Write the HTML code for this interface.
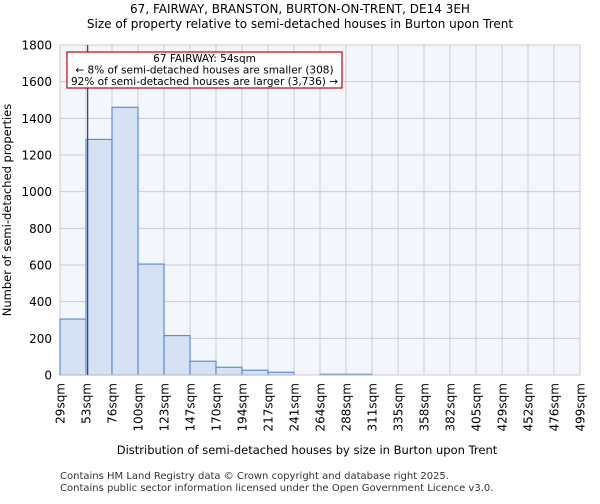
<!DOCTYPE html>
<html><head><meta charset="utf-8"><style>
body{margin:0;background:#fff;font-family:"DejaVu Sans","Liberation Sans",sans-serif;}
</style></head><body>
<svg width="600" height="500" xmlns="http://www.w3.org/2000/svg" font-family="DejaVu Sans, Liberation Sans, sans-serif">
<text x="300" y="13" text-anchor="middle" font-size="12">67, FAIRWAY, BRANSTON, BURTON-ON-TRENT, DE14 3EH</text>
<text x="300" y="28" text-anchor="middle" font-size="12">Size of property relative to semi-detached houses in Burton upon Trent</text>
<rect x="60" y="45" width="520" height="330" fill="#f3f6fd"/>
<g id="grid"></g>
<g id="bars"></g>
<g id="axes"></g>
<text x="307" y="454" text-anchor="middle" font-size="11.5">Distribution of semi-detached houses by size in Burton upon Trent</text>
<text transform="translate(11,210) rotate(-90)" text-anchor="middle" font-size="11.5">Number of semi-detached properties</text>
<text x="60" y="479" font-size="10" fill="#333">Contains HM Land Registry data © Crown copyright and database right 2025.</text>
<text x="60" y="491" font-size="10" fill="#333">Contains public sector information licensed under the Open Government Licence v3.0.</text>
</svg>
<script>
const categories=["29sqm","53sqm","76sqm","100sqm","123sqm","147sqm","170sqm","194sqm","217sqm","241sqm","264sqm","288sqm","311sqm","335sqm","358sqm","382sqm","405sqm","429sqm","452sqm","476sqm","499sqm"];
const counts=[305,1285,1460,605,215,75,42,26,15,0,4,4,0,0,0,0,0,0,0,0];
const yTicks=[0,200,400,600,800,1000,1200,1400,1600,1800];
const binStart=29, binWidth=23.5, markerSize=54;
const NS="http://www.w3.org/2000/svg";
const X0=60,X1=580,Y0=375,Y1=45,yMax=1800;
const nb=counts.length;
const xs=v=>X0+(v-binStart)/(binWidth*nb)*(X1-X0);
const xi=i=>X0+i*(X1-X0)/nb;
const ys=v=>Y0-v/yMax*(Y0-Y1);
function mk(t,a,p){const e=document.createElementNS(NS,t);for(const k in a)e.setAttribute(k,a[k]);p.appendChild(e);return e;}
const grid=document.getElementById('grid'),bars=document.getElementById('bars'),axes=document.getElementById('axes');
yTicks.forEach(v=>{
 const l=mk('line',{x1:X0,x2:X1,y1:ys(v),y2:ys(v),stroke:'#cccccc','stroke-width':1},grid);
 
 
 const t=mk('text',{x:X0-8,y:ys(v)+4.5,'text-anchor':'end','font-size':'12'},axes);
 t.textContent=v;
 
 
});
categories.forEach((c,i)=>{
 const x=xi(i);
 const l=mk('line',{x1:x,x2:x,y1:Y1,y2:Y0,stroke:'#cccccc','stroke-width':1},grid);
 
 
 const t=mk('text',{transform:`translate(${x+4.5},${Y0+8}) rotate(-90)`,'text-anchor':'end','font-size':'12'},axes);
 t.textContent=c;
 
 
});
counts.forEach((v,i)=>{
 if(v<=0)return;
 const r=mk('rect',{x:xi(i),y:ys(v),width:xi(i+1)-xi(i),height:Y0-ys(v),fill:'#d6e1f4',stroke:'#5a8fd6','stroke-width':1.2},bars);
 
 
});
const ax=mk('line',{x1:X0,x2:X1,y1:Y0,y2:Y0,stroke:'#cccccc','stroke-width':1},axes);


const m=mk('line',{x1:xs(markerSize),x2:xs(markerSize),y1:Y1,y2:Y0,stroke:'#3a3a6a','stroke-width':1.2},axes);


const g=mk('g',{},axes);


mk('rect',{x:67,y:52,width:275,height:36,fill:'#fff',stroke:'#cc0000','stroke-width':1.2},g);
[["67 FAIRWAY: 54sqm",62],["← 8% of semi-detached houses are smaller (308)",73.5],["92% of semi-detached houses are larger (3,736) →",85]].forEach(([s,y])=>{
 const t=mk('text',{x:204.5,y:y,'text-anchor':'middle','font-size':'10.5'},g);t.textContent=s;
});
</script>
</body></html>
